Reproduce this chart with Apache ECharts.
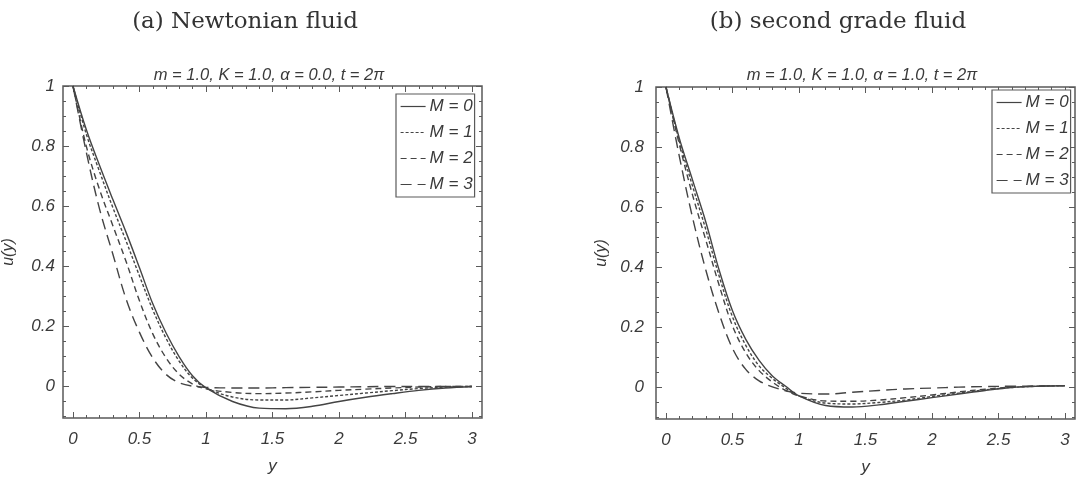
<!DOCTYPE html>
<html>
<head>
<meta charset="utf-8">
<script src="https://cdn.jsdelivr.net/npm/echarts@6/dist/echarts.min.js"></script>
<style>
html,body{margin:0;padding:0;background:#fff;}
#chart{width:1080px;height:485px;}
</style>
</head>
<body>
<div id="chart"></div>
<script>
// ---- data ----
const panelTitles = ['(a) Newtonian fluid', '(b) second grade fluid'];
const panelSubtitles = ['m = 1.0, K = 1.0, \u03b1 = 0.0, t = 2\u03c0', 'm = 1.0, K = 1.0, \u03b1 = 1.0, t = 2\u03c0'];
const seriesNames = ['M = 0', 'M = 1', 'M = 2', 'M = 3'];
const yPositions = [0, 0.1, 0.2, 0.3, 0.4, 0.5, 0.6, 0.7, 0.8, 0.9, 1.0, 1.2, 1.4, 1.6, 1.8, 2.0, 2.2, 2.4, 2.6, 2.8, 3.0];

// panel (a) Newtonian fluid
const newtonM0 = [1, 0.855, 0.735, 0.622, 0.512, 0.395, 0.275, 0.178, 0.098, 0.035, -0.005, -0.050, -0.072, -0.074, -0.066, -0.050, -0.036, -0.024, -0.013, -0.005, 0.0];
const newtonM1 = [1, 0.840, 0.715, 0.595, 0.483, 0.368, 0.255, 0.160, 0.083, 0.027, -0.005, -0.035, -0.045, -0.045, -0.038, -0.030, -0.022, -0.014, -0.007, -0.002, 0.0];
const newtonM2 = [1, 0.800, 0.655, 0.535, 0.415, 0.285, 0.175, 0.095, 0.040, 0.008, -0.008, -0.020, -0.024, -0.022, -0.018, -0.013, -0.009, -0.005, -0.002, 0.0, 0.0];
const newtonM3 = [1, 0.780, 0.590, 0.440, 0.290, 0.180, 0.095, 0.040, 0.012, 0.001, -0.003, -0.005, -0.005, -0.004, -0.003, -0.002, -0.001, 0.0, 0.0, 0.0, 0.0];

// panel (b) second grade fluid
const secondM0 = [1, 0.830, 0.690, 0.550, 0.390, 0.255, 0.160, 0.090, 0.038, 0.004, -0.028, -0.060, -0.065, -0.058, -0.046, -0.034, -0.022, -0.010, 0.0, 0.004, 0.006];
const secondM1 = [1, 0.820, 0.670, 0.525, 0.370, 0.235, 0.140, 0.072, 0.030, -0.002, -0.028, -0.052, -0.055, -0.050, -0.042, -0.030, -0.019, -0.008, 0.0, 0.004, 0.006];
const secondM2 = [1, 0.810, 0.640, 0.490, 0.340, 0.205, 0.115, 0.056, 0.018, -0.010, -0.028, -0.045, -0.046, -0.042, -0.034, -0.025, -0.015, -0.006, 0.001, 0.004, 0.006];
const secondM3 = [1, 0.770, 0.565, 0.390, 0.245, 0.130, 0.060, 0.022, 0.002, -0.011, -0.019, -0.022, -0.016, -0.010, -0.005, -0.002, 0.001, 0.003, 0.004, 0.005, 0.006];

// tick labels
const xTickLabels = [0, 0.5, 1, 1.5, 2, 2.5, 3];
const xMinorTicks = [0.1,0.2,0.3,0.4,0.6,0.7,0.8,0.9,1.1,1.2,1.3,1.4,1.6,1.7,1.8,1.9,2.1,2.2,2.3,2.4,2.6,2.7,2.8,2.9];
const uTickLabels = [0, 0.2, 0.4, 0.6, 0.8, 1];
const uMinorTicks = [-0.1,-0.05,0.05,0.1,0.15,0.25,0.3,0.35,0.45,0.5,0.55,0.65,0.7,0.75,0.85,0.9,0.95];

const panelData = [
  [newtonM0, newtonM1, newtonM2, newtonM3],
  [secondM0, secondM1, secondM2, secondM3]
];

// ---- styling ----
const frameColor = '#5a5a5a';
const lineColor = '#444';
const textColor = '#3a3a3a';
const dashTypes = ['solid', [3, 2], [6, 4], [11, 6]];
const sansItalic = {fontFamily: 'Liberation Sans', fontStyle: 'italic', color: textColor};

const grids = [
  {left: 63, top: 86, width: 419, height: 332},
  {left: 656, top: 87, width: 419, height: 332}
];
const labelMarginY = [8, 12];
const xMin = -0.075, xMax = 3.075, uMin = -0.105, uMax = 1.0;

const xAxes = [], yAxes = [], series = [], legends = [], titles = [];

grids.forEach((g, gi) => {
  xAxes.push({
    type: 'value', gridIndex: gi, min: xMin, max: xMax, position: 'bottom',
    axisLine: {show: false, onZero: false}, splitLine: {show: false},
    axisTick: {show: true, inside: true, length: 6, customValues: xTickLabels, lineStyle: {color: frameColor, width: 1}},
    axisLabel: Object.assign({show: true, customValues: xTickLabels, fontSize: 17, margin: 13}, sansItalic),
    name: 'y', nameLocation: 'middle', nameGap: 40,
    nameTextStyle: Object.assign({fontSize: 17}, sansItalic)
  });
  [['bottom', xMinorTicks, 3], ['top', xTickLabels, 6], ['top', xMinorTicks, 3]].forEach(([pos, vals, len]) => {
    xAxes.push({
      type: 'value', gridIndex: gi, min: xMin, max: xMax, position: pos,
      axisLine: {show: false, onZero: false}, splitLine: {show: false},
      axisTick: {show: true, inside: true, length: len, customValues: vals, lineStyle: {color: frameColor, width: 1}},
      axisLabel: {show: false}
    });
  });
  yAxes.push({
    type: 'value', gridIndex: gi, min: uMin, max: uMax, position: 'left',
    axisLine: {show: false, onZero: false}, splitLine: {show: false},
    axisTick: {show: true, inside: true, length: 6, customValues: uTickLabels, lineStyle: {color: frameColor, width: 1}},
    axisLabel: Object.assign({show: true, customValues: uTickLabels, fontSize: 17, margin: labelMarginY[gi]}, sansItalic),
    name: 'u(y)', nameLocation: 'middle', nameGap: 46, nameRotate: 90,
    nameTextStyle: Object.assign({fontSize: 16}, sansItalic)
  });
  [['left', uMinorTicks, 3], ['right', uTickLabels, 6], ['right', uMinorTicks, 3]].forEach(([pos, vals, len]) => {
    yAxes.push({
      type: 'value', gridIndex: gi, min: uMin, max: uMax, position: pos,
      axisLine: {show: false, onZero: false}, splitLine: {show: false},
      axisTick: {show: true, inside: true, length: len, customValues: vals, lineStyle: {color: frameColor, width: 1}},
      axisLabel: {show: false}
    });
  });

  panelData[gi].forEach((vals, si) => {
    series.push({
      type: 'line', name: seriesNames[si],
      xAxisIndex: gi * 4, yAxisIndex: gi * 4,
      data: yPositions.map((x, i) => [x, vals[i]]),
      smooth: 0.35, symbol: 'none', showSymbol: false,
      lineStyle: {color: lineColor, width: 1.4, type: dashTypes[si]},
      itemStyle: {color: lineColor},
      z: 3, silent: true
    });
  });
});

const legendBase = {
  orient: 'vertical', data: seriesNames, itemWidth: 25, itemHeight: 14, itemGap: 9,
  padding: [4, 2, 4, 4], borderColor: frameColor, borderWidth: 1.2, borderRadius: 0,
  backgroundColor: '#fff', selectedMode: false,
  itemStyle: {opacity: 0, borderWidth: 0},
  lineStyle: {width: 1.2},
  textStyle: Object.assign({fontSize: 17, padding: [0, 0, 0, -1]}, sansItalic)
};
legends.push(Object.assign({left: 396, top: 94}, legendBase));
legends.push(Object.assign({left: 992, top: 90}, legendBase));

const serifTitle = {fontFamily: 'DejaVu Serif', fontWeight: 'normal', fontSize: 23, color: '#333'};
titles.push({text: panelTitles[0], left: 240, top: 6, textAlign: 'center', textStyle: serifTitle});
titles.push({text: panelTitles[1], left: 833, top: 6, textAlign: 'center', textStyle: serifTitle});
titles.push({text: panelSubtitles[0], left: 264, top: 62, textAlign: 'center',
  textStyle: Object.assign({fontSize: 16.5, fontWeight: 'normal'}, sansItalic)});
titles.push({text: panelSubtitles[1], left: 857, top: 62, textAlign: 'center',
  textStyle: Object.assign({fontSize: 16.5, fontWeight: 'normal'}, sansItalic)});

const chart = echarts.init(document.getElementById('chart'), null, {renderer: 'canvas'});
chart.setOption({
  animation: false,
  backgroundColor: '#fff',
  title: titles,
  legend: legends,
  grid: grids.map(g => Object.assign({show: true, borderColor: frameColor, borderWidth: 1.5, backgroundColor: 'transparent', containLabel: false}, g)),
  xAxis: xAxes,
  yAxis: yAxes,
  series: series
});
</script>
</body>
</html>
